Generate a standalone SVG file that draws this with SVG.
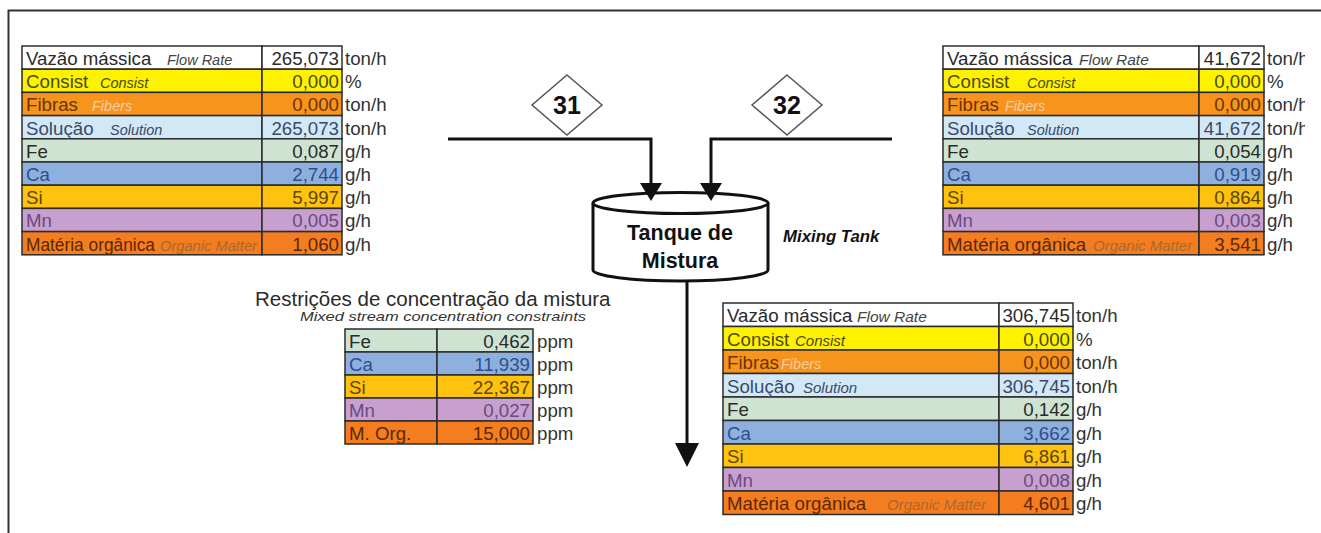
<svg xmlns="http://www.w3.org/2000/svg" width="1321" height="533" viewBox="0 0 1321 533">
<style>
.t{font-family:"Liberation Sans",Arial,sans-serif;font-size:18.7px;fill:#2a2a2a}
.v{text-anchor:end}
.i{font-style:italic}
.i14{font-style:italic;font-size:14.5px}
.i15{font-style:italic;font-size:15px}
.i16{font-style:italic;font-size:15.5px}
.u{fill:#333}
.c{stroke:#2b2b2b;stroke-width:1.5}
.w{fill:#ffffff}.y{fill:#fff200}.o{fill:#f7941d}.lb{fill:#d2e8f6}.g{fill:#cfe3d2}.b{fill:#8eb0de}.s{fill:#ffc20e}.m{fill:#c7a0d0}.or{fill:#f47d20}
.ty{fill:#4a4a12}.to{fill:#6b3300}.tf{fill:#f3cda6}.tb{fill:#2d4f8e}.ts{fill:#5a4606}.tm{fill:#6b4a80}.tor{fill:#5a2800}.tom{fill:#a9682f}.tsl{fill:#3a4a66}.tfr{fill:#444}
.line{stroke:#111;stroke-width:3;fill:none}
.tank{stroke:#111;stroke-width:3;fill:#fff}
.dia{stroke:#555;stroke-width:1.5;fill:#fff}
.bold{font-weight:bold;fill:#111}
.dnum{font-size:25px;text-anchor:middle}
.tk{font-size:21.5px;text-anchor:middle}
</style>
<defs>
<clipPath id="clipR"><rect x="0" y="0" width="1305" height="533"/></clipPath>
</defs>

<!-- frame -->
<g id="frame">
<path d="M8.5,533 L8.5,10.5 L1321,10.5" stroke="#333" stroke-width="2" fill="none"/>
</g>

<!-- Left table (stream 31) -->
<g id="table31">
<rect class="c w" x="22" y="46" width="240" height="23.2"/><rect class="c w" x="262" y="46" width="80" height="23.2"/>
<rect class="c y" x="22" y="69.2" width="240" height="23.2"/><rect class="c y" x="262" y="69.2" width="80" height="23.2"/>
<rect class="c o" x="22" y="92.4" width="240" height="23.2"/><rect class="c o" x="262" y="92.4" width="80" height="23.2"/>
<rect class="c lb" x="22" y="115.6" width="240" height="23.2"/><rect class="c lb" x="262" y="115.6" width="80" height="23.2"/>
<rect class="c g" x="22" y="138.8" width="240" height="23.2"/><rect class="c g" x="262" y="138.8" width="80" height="23.2"/>
<rect class="c b" x="22" y="162" width="240" height="23.2"/><rect class="c b" x="262" y="162" width="80" height="23.2"/>
<rect class="c s" x="22" y="185.2" width="240" height="23.2"/><rect class="c s" x="262" y="185.2" width="80" height="23.2"/>
<rect class="c m" x="22" y="208.4" width="240" height="23.2"/><rect class="c m" x="262" y="208.4" width="80" height="23.2"/>
<rect class="c or" x="22" y="231.6" width="240" height="23.2"/><rect class="c or" x="262" y="231.6" width="80" height="23.2"/>
<text class="t" x="26" y="65">Vazão mássica</text><text class="t i14 tfr" x="167" y="65">Flow Rate</text>
<text class="t ty" x="26" y="88.2">Consist</text><text class="t i14 ty" x="100" y="88.2">Consist</text>
<text class="t to" x="26" y="111.4">Fibras</text><text class="t i14 tf" x="92" y="111.4">Fibers</text>
<text class="t tsl" x="26" y="134.6">Solução</text><text class="t i14 tsl" x="110" y="134.6">Solution</text>
<text class="t" x="26" y="157.8">Fe</text>
<text class="t tb" x="26" y="181">Ca</text>
<text class="t ts" x="26" y="204.2">Si</text>
<text class="t tm" x="26" y="227.4">Mn</text>
<text class="t tor" x="26" y="250.6" textLength="129" lengthAdjust="spacingAndGlyphs">Matéria orgânica</text><text class="t i14 tom" x="160" y="250.6" textLength="97" lengthAdjust="spacingAndGlyphs">Organic Matter</text>
<text class="t v" x="339" y="65">265,073</text>
<text class="t v ty" x="339" y="88.2">0,000</text>
<text class="t v to" x="339" y="111.4">0,000</text>
<text class="t v tsl" x="339" y="134.6">265,073</text>
<text class="t v" x="339" y="157.8">0,087</text>
<text class="t v tb" x="339" y="181">2,744</text>
<text class="t v ts" x="339" y="204.2">5,997</text>
<text class="t v tm" x="339" y="227.4">0,005</text>
<text class="t v tor" x="339" y="250.6">1,060</text>
<text class="t u" x="345" y="65">ton/h</text>
<text class="t u" x="345" y="88.2">%</text>
<text class="t u" x="345" y="111.4">ton/h</text>
<text class="t u" x="345" y="134.6">ton/h</text>
<text class="t u" x="345" y="157.8">g/h</text>
<text class="t u" x="345" y="181">g/h</text>
<text class="t u" x="345" y="204.2">g/h</text>
<text class="t u" x="345" y="227.4">g/h</text>
<text class="t u" x="345" y="250.6">g/h</text>
</g>

<!-- Right table (stream 32) -->
<g id="table32">
<rect class="c w" x="943" y="46" width="256" height="23.2"/><rect class="c w" x="1199" y="46" width="65" height="23.2"/>
<rect class="c y" x="943" y="69.2" width="256" height="23.2"/><rect class="c y" x="1199" y="69.2" width="65" height="23.2"/>
<rect class="c o" x="943" y="92.4" width="256" height="23.2"/><rect class="c o" x="1199" y="92.4" width="65" height="23.2"/>
<rect class="c lb" x="943" y="115.6" width="256" height="23.2"/><rect class="c lb" x="1199" y="115.6" width="65" height="23.2"/>
<rect class="c g" x="943" y="138.8" width="256" height="23.2"/><rect class="c g" x="1199" y="138.8" width="65" height="23.2"/>
<rect class="c b" x="943" y="162" width="256" height="23.2"/><rect class="c b" x="1199" y="162" width="65" height="23.2"/>
<rect class="c s" x="943" y="185.2" width="256" height="23.2"/><rect class="c s" x="1199" y="185.2" width="65" height="23.2"/>
<rect class="c m" x="943" y="208.4" width="256" height="23.2"/><rect class="c m" x="1199" y="208.4" width="65" height="23.2"/>
<rect class="c or" x="943" y="231.6" width="256" height="23.2"/><rect class="c or" x="1199" y="231.6" width="65" height="23.2"/>
<text class="t" x="947" y="65">Vazão mássica</text><text class="t i16 tfr" x="1079" y="65">Flow Rate</text>
<text class="t ty" x="947" y="88.2">Consist</text><text class="t i14 ty" x="1027" y="88.2">Consist</text>
<text class="t to" x="947" y="111.4">Fibras</text><text class="t i14 tf" x="1005" y="111.4">Fibers</text>
<text class="t tsl" x="947" y="134.6">Solução</text><text class="t i14 tsl" x="1027" y="134.6">Solution</text>
<text class="t" x="947" y="157.8">Fe</text>
<text class="t tb" x="947" y="181">Ca</text>
<text class="t ts" x="947" y="204.2">Si</text>
<text class="t tm" x="947" y="227.4">Mn</text>
<text class="t tor" x="947" y="250.6">Matéria orgânica</text><text class="t i15 tom" x="1093" y="250.6">Organic Matter</text>
<text class="t v" x="1261" y="65">41,672</text>
<text class="t v ty" x="1261" y="88.2">0,000</text>
<text class="t v to" x="1261" y="111.4">0,000</text>
<text class="t v tsl" x="1261" y="134.6">41,672</text>
<text class="t v" x="1261" y="157.8">0,054</text>
<text class="t v tb" x="1261" y="181">0,919</text>
<text class="t v ts" x="1261" y="204.2">0,864</text>
<text class="t v tm" x="1261" y="227.4">0,003</text>
<text class="t v tor" x="1261" y="250.6">3,541</text>
<g clip-path="url(#clipR)">
<text class="t u" x="1267" y="65">ton/h</text>
<text class="t u" x="1267" y="88.2">%</text>
<text class="t u" x="1267" y="111.4">ton/h</text>
<text class="t u" x="1267" y="134.6">ton/h</text>
<text class="t u" x="1267" y="157.8">g/h</text>
<text class="t u" x="1267" y="181">g/h</text>
<text class="t u" x="1267" y="204.2">g/h</text>
<text class="t u" x="1267" y="227.4">g/h</text>
<text class="t u" x="1267" y="250.6">g/h</text>
</g>
</g>

<!-- Stream markers -->
<g id="stream31">
<polygon class="dia" points="567,75 602,105 567,135 532,105"/>
<text class="t bold dnum" x="567" y="114">31</text>
</g>
<g id="stream32">
<polygon class="dia" points="787,75 822,105 787,135 752,105"/>
<text class="t bold dnum" x="787" y="114">32</text>
</g>

<!-- Mixing tank -->
<g id="tank">
<path class="tank" d="M593,203 L593,270 A87.5,11 0 0 0 768,270 L768,203"/>
<ellipse class="tank" cx="680.5" cy="203" rx="87.5" ry="10.5"/>
<text class="t bold tk" x="680" y="240">Tanque de</text>
<text class="t bold tk" x="680" y="268">Mistura</text>
<text class="t bold i" x="783" y="242" style="font-size:16.8px">Mixing Tank</text>
</g>

<!-- Connectors -->
<g id="connectors">
<path class="line" d="M448,139 L651,139 L651,186"/>
<polygon points="640,183 662,183 651,201" fill="#111"/>
<path class="line" d="M892,139 L711,139 L711,186"/>
<polygon points="700,183 722,183 711,201" fill="#111"/>
<path class="line" d="M687,281 L687,446"/>
<polygon points="675,443 699,443 687,467" fill="#111"/>
</g>

<!-- Constraints -->
<g id="constraints">
<text class="t" x="255" y="306" style="font-size:20.5px">Restrições de concentração da mistura</text>
<text class="t i" x="300" y="321" style="font-size:13.5px;fill:#333" textLength="286" lengthAdjust="spacingAndGlyphs">Mixed stream concentration constraints</text>
<rect class="c g" x="345" y="329" width="92" height="23"/><rect class="c g" x="437" y="329" width="96" height="23"/>
<rect class="c b" x="345" y="352" width="92" height="23"/><rect class="c b" x="437" y="352" width="96" height="23"/>
<rect class="c s" x="345" y="375" width="92" height="23"/><rect class="c s" x="437" y="375" width="96" height="23"/>
<rect class="c m" x="345" y="398" width="92" height="23"/><rect class="c m" x="437" y="398" width="96" height="23"/>
<rect class="c or" x="345" y="421" width="92" height="23"/><rect class="c or" x="437" y="421" width="96" height="23"/>
<text class="t" x="349" y="347.5">Fe</text>
<text class="t tb" x="349" y="370.5">Ca</text>
<text class="t ts" x="349" y="393.5">Si</text>
<text class="t tm" x="349" y="416.5">Mn</text>
<text class="t tor" x="349" y="439.5">M. Org.</text>
<text class="t v" x="530" y="347.5">0,462</text>
<text class="t v tb" x="530" y="370.5">11,939</text>
<text class="t v ts" x="530" y="393.5">22,367</text>
<text class="t v tm" x="530" y="416.5">0,027</text>
<text class="t v tor" x="530" y="439.5">15,000</text>
<text class="t u" x="537" y="347.5">ppm</text>
<text class="t u" x="537" y="370.5">ppm</text>
<text class="t u" x="537" y="393.5">ppm</text>
<text class="t u" x="537" y="416.5">ppm</text>
<text class="t u" x="537" y="439.5">ppm</text>
</g>

<!-- Bottom table (mixed stream) -->
<g id="tableMix">
<rect class="c w" x="723" y="303" width="276" height="23.5"/><rect class="c w" x="999" y="303" width="74" height="23.5"/>
<rect class="c y" x="723" y="326.5" width="276" height="23.5"/><rect class="c y" x="999" y="326.5" width="74" height="23.5"/>
<rect class="c o" x="723" y="350" width="276" height="23.5"/><rect class="c o" x="999" y="350" width="74" height="23.5"/>
<rect class="c lb" x="723" y="373.5" width="276" height="23.5"/><rect class="c lb" x="999" y="373.5" width="74" height="23.5"/>
<rect class="c g" x="723" y="397" width="276" height="23.5"/><rect class="c g" x="999" y="397" width="74" height="23.5"/>
<rect class="c b" x="723" y="420.5" width="276" height="23.5"/><rect class="c b" x="999" y="420.5" width="74" height="23.5"/>
<rect class="c s" x="723" y="444" width="276" height="23.5"/><rect class="c s" x="999" y="444" width="74" height="23.5"/>
<rect class="c m" x="723" y="467.5" width="276" height="23.5"/><rect class="c m" x="999" y="467.5" width="74" height="23.5"/>
<rect class="c or" x="723" y="491" width="276" height="23.5"/><rect class="c or" x="999" y="491" width="74" height="23.5"/>
<text class="t" x="727" y="322">Vazão mássica</text><text class="t i16 tfr" x="857" y="322">Flow Rate</text>
<text class="t ty" x="727" y="345.5">Consist</text><text class="t i15 ty" x="795" y="345.5">Consist</text>
<text class="t to" x="727" y="369">Fibras</text><text class="t i14 tf" x="781" y="369">Fibers</text>
<text class="t tsl" x="727" y="392.5">Solução</text><text class="t i15 tsl" x="803" y="392.5">Solution</text>
<text class="t" x="727" y="416">Fe</text>
<text class="t tb" x="727" y="439.5">Ca</text>
<text class="t ts" x="727" y="463">Si</text>
<text class="t tm" x="727" y="486.5">Mn</text>
<text class="t tor" x="727" y="510">Matéria orgânica</text><text class="t i15 tom" x="887" y="510">Organic Matter</text>
<text class="t v" x="1070" y="322">306,745</text>
<text class="t v ty" x="1070" y="345.5">0,000</text>
<text class="t v to" x="1070" y="369">0,000</text>
<text class="t v tsl" x="1070" y="392.5">306,745</text>
<text class="t v" x="1070" y="416">0,142</text>
<text class="t v tb" x="1070" y="439.5">3,662</text>
<text class="t v ts" x="1070" y="463">6,861</text>
<text class="t v tm" x="1070" y="486.5">0,008</text>
<text class="t v tor" x="1070" y="510">4,601</text>
<text class="t u" x="1076" y="322">ton/h</text>
<text class="t u" x="1076" y="345.5">%</text>
<text class="t u" x="1076" y="369">ton/h</text>
<text class="t u" x="1076" y="392.5">ton/h</text>
<text class="t u" x="1076" y="416">g/h</text>
<text class="t u" x="1076" y="439.5">g/h</text>
<text class="t u" x="1076" y="463">g/h</text>
<text class="t u" x="1076" y="486.5">g/h</text>
<text class="t u" x="1076" y="510">g/h</text>
</g>
</svg>
